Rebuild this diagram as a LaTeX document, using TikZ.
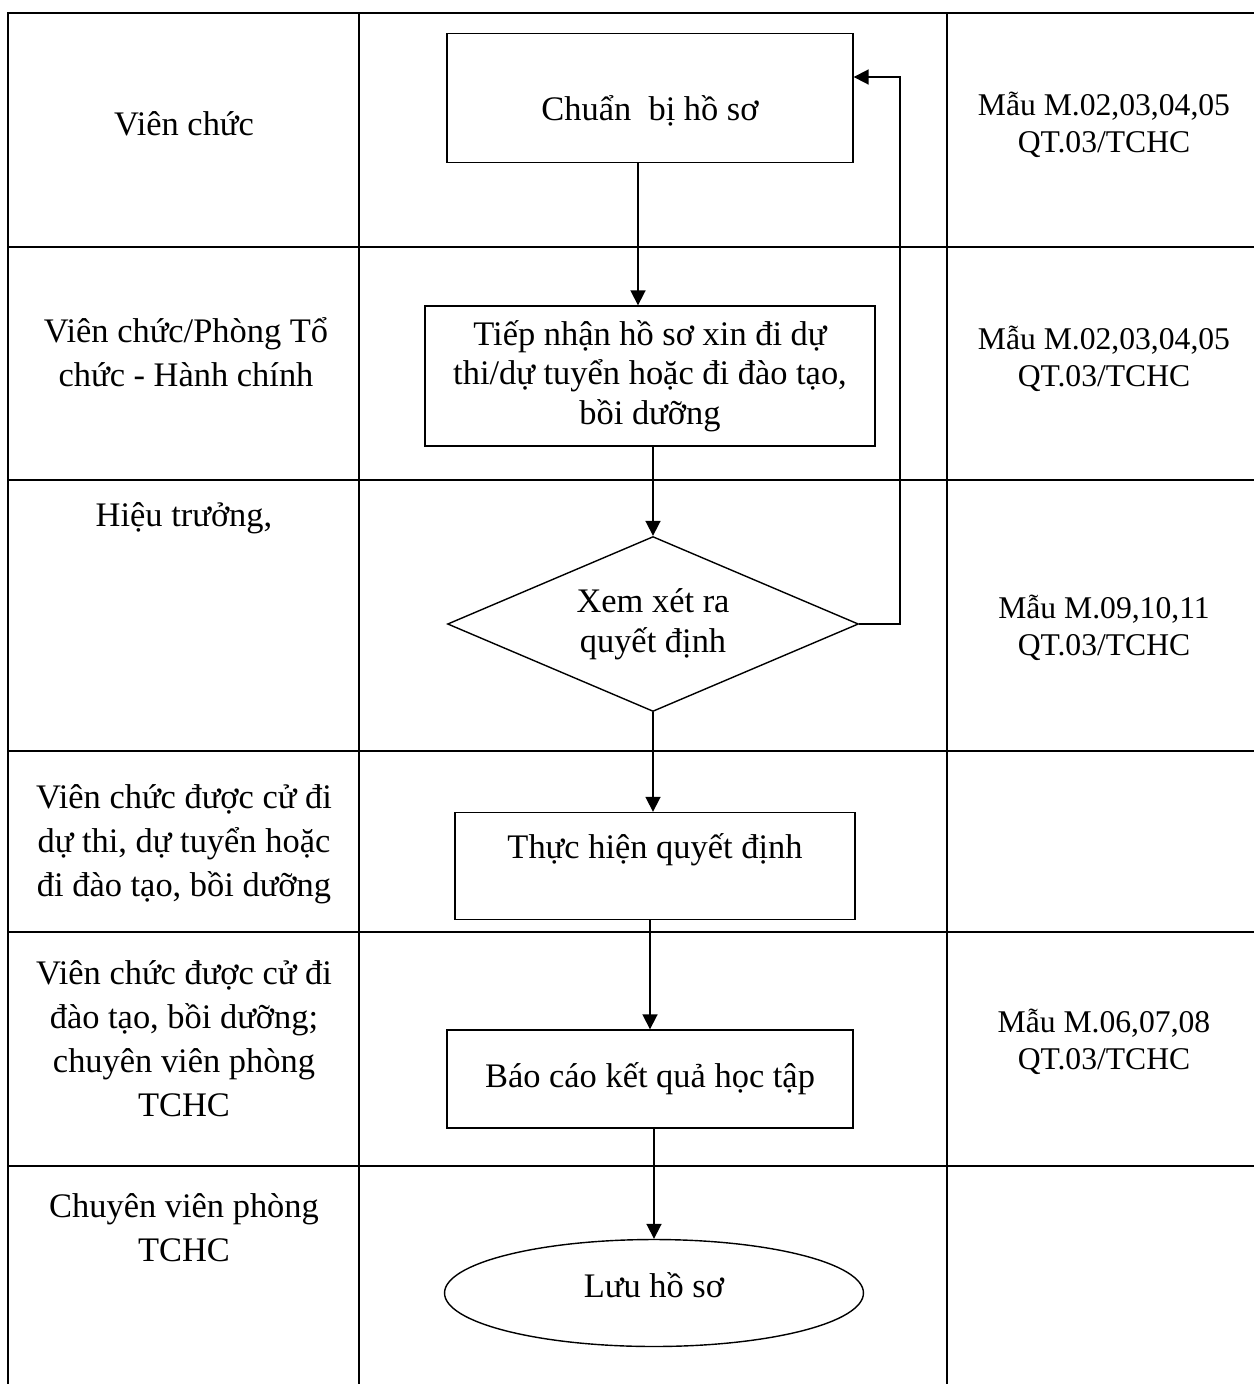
\documentclass[tikz,border=0pt]{standalone}
\usepackage{fontspec}
\setmainfont{Liberation Serif}
\usepackage{tikz}
\usetikzlibrary{arrows.meta,shapes.geometric,positioning}

\begin{document}
\begin{tikzpicture}[
    x=0.02cm, y=-0.02cm,
    >={Triangle[length=0.3cm,width=0.3cm]},
    font=\fontsize{19.6}{25}\selectfont,
    stepbox/.style={
		rectangle,
		draw=black,
		line width=0.8pt,
		align=center,
		inner sep=0pt,
		font=\fontsize{19.6}{22.5}\selectfont
	},
    decision/.style={
		diamond,
		draw=black,
		line width=0.8pt,
		align=center,
		aspect=2.35,
		inner sep=0pt,
		minimum width=8.22cm,
		minimum height=3.5cm,
		font=\fontsize{19.6}{22.5}\selectfont
	},
    ending/.style={
		ellipse,
		draw=black,
		line width=0.8pt,
		inner sep=0pt,
		minimum width=8.38cm,
		minimum height=2.14cm
	},
    role/.style={
		align=center,
		font=\fontsize{19.6}{25}\selectfont
	},
    form/.style={
		align=center,
		font=\fontsize{18}{21}\selectfont
	},
    grid/.style={
		line width=1.3pt,
		line cap=rect
	},
    flow/.style={
		->,
		line width=1pt
	}
  ]
    \useasboundingbox (0,0) rectangle (1254,1384);

    % table lines
    \foreach \y in {13,247,480,751,932,1166}
        \draw [grid] (8,\y) -- (1254,\y);
    \foreach \x in {8,359,947}
        \draw [grid] (\x,13) -- (\x,1384);

    % who does the step
    \node [role] (who1) at (184,124) {Viên chức};
    \node [role] (who2) at (186,352) {Viên chức/Phòng Tổ\\chức - Hành chính};
    \node [role] (who3) at (184,518) {Hiệu trưởng,};
    \node [role] (who4) at (184,844) {Viên chức được cử đi\\dự thi, dự tuyển hoặc\\đi đào tạo, bồi dưỡng};
    \node [role] (who5) at (184,1039) {Viên chức được cử đi\\đào tạo, bồi dưỡng;\\chuyên viên phòng\\TCHC};
    \node [role] (who6) at (184,1228) {Chuyên viên phòng\\TCHC};

    % the steps
    \node [stepbox, minimum width=8.12cm, minimum height=2.58cm, text height=1cm] (prep) at (650,98) {Chuẩn\ \ bị hồ sơ};
    \node [stepbox, minimum width=9cm, minimum height=2.8cm] (receive) at (650,376)
        {Tiếp nhận hồ sơ xin đi dự\\thi/dự tuyển hoặc đi đào tạo,\\bồi dưỡng};
    \node [decision] (decide) at (653,624) {Xem xét ra\\quyết định};
    \node [stepbox, minimum width=8cm, minimum height=2.14cm] (carry) at (655,866) {Thực hiện quyết định\\~};
    \node [stepbox, minimum width=8.12cm, minimum height=1.96cm] (report) at (650,1079) {Báo cáo kết quả học tập};
    \node [ending, text depth=0.32cm] (store) at (654,1293) {Lưu hồ sơ};

    % forms used
    \node [form] (form1) at (1104,125) {Mẫu M.02,03,04,05\\QT.03/TCHC};
    \node [form] (form2) at (1104,359) {Mẫu M.02,03,04,05\\QT.03/TCHC};
    \node [form] (form3) at (1104,628) {Mẫu M.09,10,11\\QT.03/TCHC};
    \node [form] (form5) at (1104,1042) {Mẫu M.06,07,08\\QT.03/TCHC};

    % arrows
    \draw [flow] ([xshift=-0.24cm]prep.south) -- ([xshift=-0.24cm]receive.north);
    \draw [flow] (receive.south -| decide.north) -- (decide.north);
    \draw [flow] (decide.south) -- (decide.south |- carry.north);
    \draw [flow] (carry.south -| report.north) -- (report.north);
    \draw [flow] (report.south -| store.north) -- (store.north);

    \coordinate (back) at (900,77);
    \draw [flow] (decide.east) -| (back) -- (back -| prep.east);

\end{tikzpicture}
\end{document}
